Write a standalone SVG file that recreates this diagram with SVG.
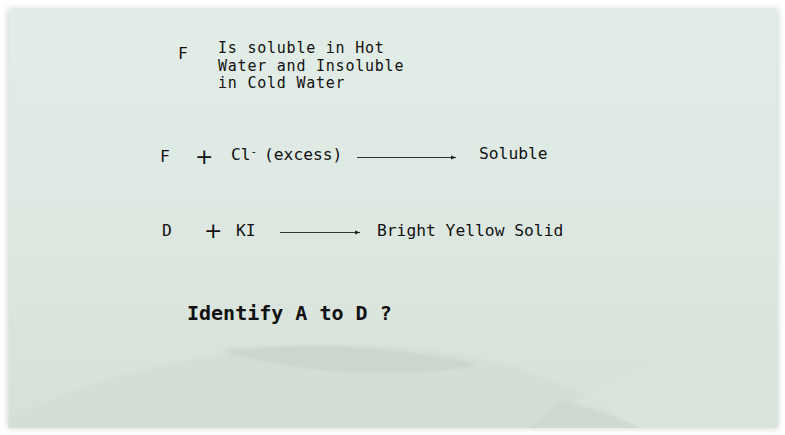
<svg xmlns="http://www.w3.org/2000/svg" width="785" height="435" viewBox="0 0 785 435">
<defs>
<linearGradient id="bg" x1="0" y1="0" x2="0" y2="1">
<stop offset="0" stop-color="#e2ede7"/>
<stop offset="0.45" stop-color="#dfe9e3"/>
<stop offset="1" stop-color="#d5e0d7"/>
</linearGradient>
<filter id="sh" x="-5%" y="-5%" width="110%" height="110%">
<feGaussianBlur stdDeviation="3"/>
</filter>
<filter id="soft" x="-10%" y="-10%" width="120%" height="120%">
<feGaussianBlur stdDeviation="1.5"/>
</filter>
<clipPath id="slide"><rect x="8" y="9" width="770" height="419"/></clipPath>
<marker id="ah" markerWidth="6" markerHeight="6" refX="5" refY="3" orient="auto" markerUnits="userSpaceOnUse">
<path d="M0,1 L5,3 L0,5 Z" fill="#222"/>
</marker>
<style>
.t{font-family:"DejaVu Sans Mono","Liberation Mono",monospace;font-size:16.3px;fill:#111}
.d{font-family:"DejaVu Sans Mono","Liberation Mono",monospace;font-size:15px;letter-spacing:0.77px;fill:#111}
.p{font-family:"DejaVu Sans","Liberation Sans",sans-serif;font-size:22px;fill:#111}
.q{font-family:"DejaVu Sans Mono","Liberation Mono",monospace;font-size:20px;font-weight:bold;fill:#111}
.c{stroke:#333;stroke-width:1;fill:none;marker-end:url(#ah)}
</style>
</defs>
<rect width="785" height="435" fill="#ffffff"/>
<rect x="8" y="9" width="770" height="419" fill="#c8d4cc" filter="url(#sh)"/>
<rect x="9" y="10" width="768" height="417" fill="url(#bg)"/>
<g clip-path="url(#slide)" filter="url(#soft)">
<path d="M8,420 C120,360 250,350 320,345 C500,340 620,400 660,435 L8,435 Z" fill="#d3ddd4" opacity="0.8"/>
<path d="M220,350 C300,375 400,380 480,365 C420,350 320,340 220,350 Z" fill="#c9d5cb" opacity="0.8"/>
<path d="M460,330 C560,400 650,420 778,415 L778,435 L640,435 C580,380 520,350 460,330 Z" fill="#d9e3db" opacity="0.6"/>
<path d="M520,435 C600,380 700,340 778,335 L778,435 Z" fill="#dae4dc" opacity="0.6"/>
<path d="M560,400 C600,410 630,420 650,435 L520,435 C540,420 550,410 560,400 Z" fill="#cbd6cc" opacity="0.7"/>
</g>
<g id="node-f-desc">
<text class="t" x="178" y="59">F</text>
<text class="d" x="218" y="53">Is soluble in Hot</text>
<text class="d" x="218" y="70.5">Water and Insoluble</text>
<text class="d" x="218" y="88">in Cold Water</text>
</g>
<g id="node-row2">
<text class="t" x="160" y="162">F</text>
<text class="p" x="195" y="164">+</text>
<text class="t" x="231" y="160">Cl<tspan font-size="11px" dy="-5">-</tspan><tspan dy="5" x="264">(excess)</tspan></text>
<text class="t" x="479" y="159">Soluble</text>
</g>
<g id="node-row3">
<text class="t" x="162" y="236">D</text>
<text class="p" x="204" y="238">+</text>
<text class="t" x="236" y="236">KI</text>
<text class="t" x="377" y="236">Bright Yellow Solid</text>
</g>
<g id="node-question">
<text class="q" x="187" y="320">Identify A to D ?</text>
</g>
<g id="connectors">
<line class="c" x1="357" y1="157.5" x2="456" y2="157.5"/>
<line class="c" x1="280" y1="232.5" x2="360" y2="232.5"/>
</g>
</svg>
